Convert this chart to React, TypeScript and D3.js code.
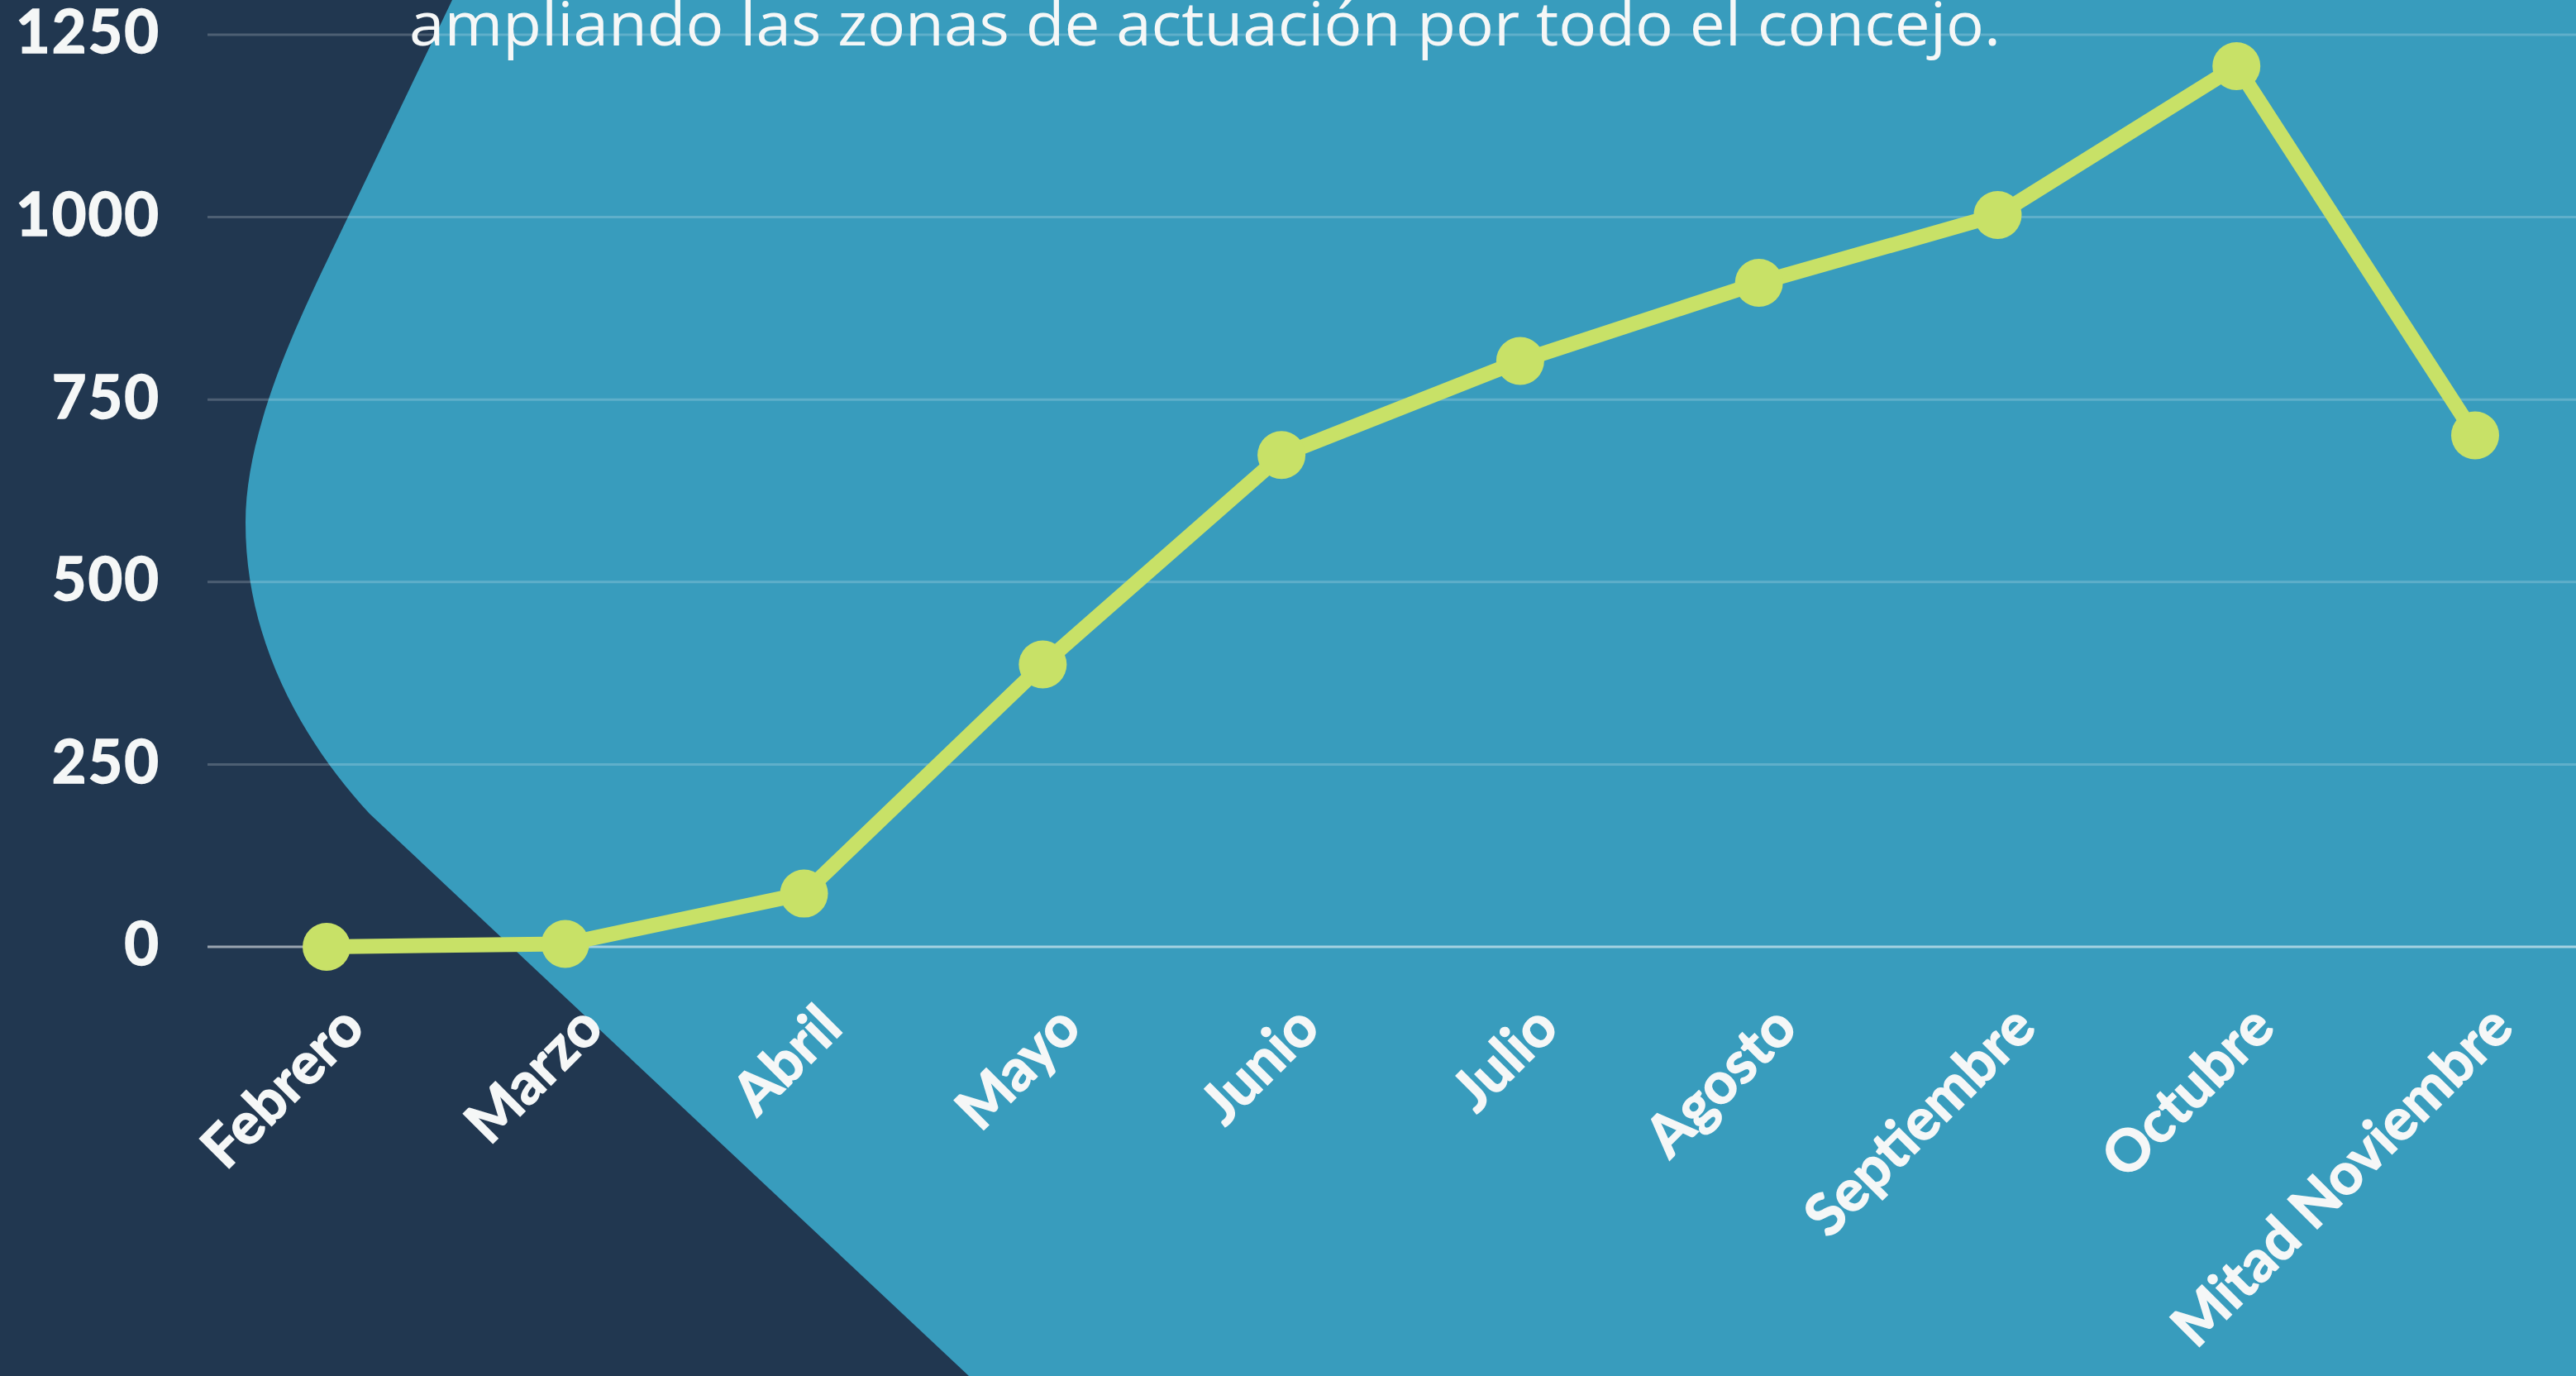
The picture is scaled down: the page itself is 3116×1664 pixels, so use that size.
import React, { useRef, useEffect } from 'react';
import * as d3 from 'd3';

const months = [
  'Febrero',
  'Marzo',
  'Abril',
  'Mayo',
  'Junio',
  'Julio',
  'Agosto',
  'Septiembre',
  'Octubre',
  'Mitad Noviembre',
];
const values = [0, 4, 73, 387, 674, 803, 910, 1003, 1207, 701];
const yTicks = [0, 250, 500, 750, 1000, 1250];
const titleLine = 'ampliando las zonas de actuación por todo el concejo.';

const W = 3116;
const H = 1664;

const Chart: React.FC = () => {
  const ref = useRef<SVGSVGElement>(null);

  useEffect(() => {
    document.body.style.margin = '0';
    document.body.style.overflow = 'hidden';
    const svg = d3.select(ref.current);
    svg.selectAll('*').remove();

    const x = d3.scalePoint<string>().domain(months).range([395, 2994]);
    const y = d3.scaleLinear().domain([0, 1250]).range([1145, 42]);

    svg.append('rect').attr('width', W).attr('height', H).attr('fill', '#389cbd');

    // dark block on the left (decoration)
    const shape = d3.path();
    shape.moveTo(0, 0);
    shape.lineTo(547, 0);
    shape.lineTo(400, 306);
    shape.bezierCurveTo(360, 390, 297, 520, 297, 632);
    shape.bezierCurveTo(297, 780, 370, 900, 447, 984);
    shape.lineTo(1172, H);
    shape.lineTo(0, H);
    shape.closePath();
    svg.append('path').attr('d', shape.toString()).attr('fill', '#213750');

    // gridlines
    svg
      .append('g')
      .selectAll('line')
      .data(yTicks)
      .join('line')
      .attr('x1', 251)
      .attr('x2', W)
      .attr('y1', (d) => y(d))
      .attr('y2', (d) => y(d))
      .attr('stroke', '#ffffff')
      .attr('stroke-opacity', (d) => (d === 0 ? 0.55 : 0.2))
      .attr('stroke-width', 3);

    // y labels
    svg
      .append('g')
      .selectAll('text')
      .data(yTicks)
      .join('text')
      .attr('x', 194)
      .attr('y', (d) => y(d) + 4)
      .attr('text-anchor', 'end')
      .attr('dominant-baseline', 'middle')
      .attr('fill', '#f5f7f7')
      .attr('stroke', '#f5f7f7')
      .attr('stroke-width', 1.5)
      .attr('font-family', 'Lato, sans-serif')
      .attr('font-weight', 700)
      .attr('font-size', 72)
      .attr('letter-spacing', 2)
      .text((d) => String(d));

    // x labels
    svg
      .append('g')
      .selectAll('text')
      .data(months)
      .join('text')
      .attr('transform', (d) => `translate(${(x(d) as number) + 49},1246) rotate(-45)`)
      .attr('text-anchor', 'end')
      .attr('fill', '#f5f7f7')
      .attr('stroke', '#f5f7f7')
      .attr('stroke-width', 1.5)
      .attr('font-family', 'Lato, sans-serif')
      .attr('font-weight', 700)
      .attr('font-size', 70)
      .text((d) => d);

    // title fragment cut by the top edge
    svg
      .append('text')
      .attr('x', 495)
      .attr('y', 55)
      .attr('textLength', 1925)
      .attr('lengthAdjust', 'spacingAndGlyphs')
      .attr('fill', '#f5f7f7')
      .attr('font-family', "'Open Sans', sans-serif")
      .attr('font-size', 73)
      .text(titleLine);

    const line = d3
      .line<number>()
      .x((_, i) => x(months[i]) as number)
      .y((d) => y(d));

    svg
      .append('path')
      .datum(values)
      .attr('d', line)
      .attr('fill', 'none')
      .attr('stroke', '#c8e167')
      .attr('stroke-width', 18)
      .attr('stroke-linejoin', 'round');

    svg
      .append('g')
      .selectAll('circle')
      .data(values)
      .join('circle')
      .attr('cx', (_, i) => x(months[i]) as number)
      .attr('cy', (d) => y(d))
      .attr('r', 29)
      .attr('fill', '#c8e167');
  }, []);

  return <svg ref={ref} width={W} height={H} style={{ display: 'block' }} />;
};

export default function App() {
  return <Chart />;
}
